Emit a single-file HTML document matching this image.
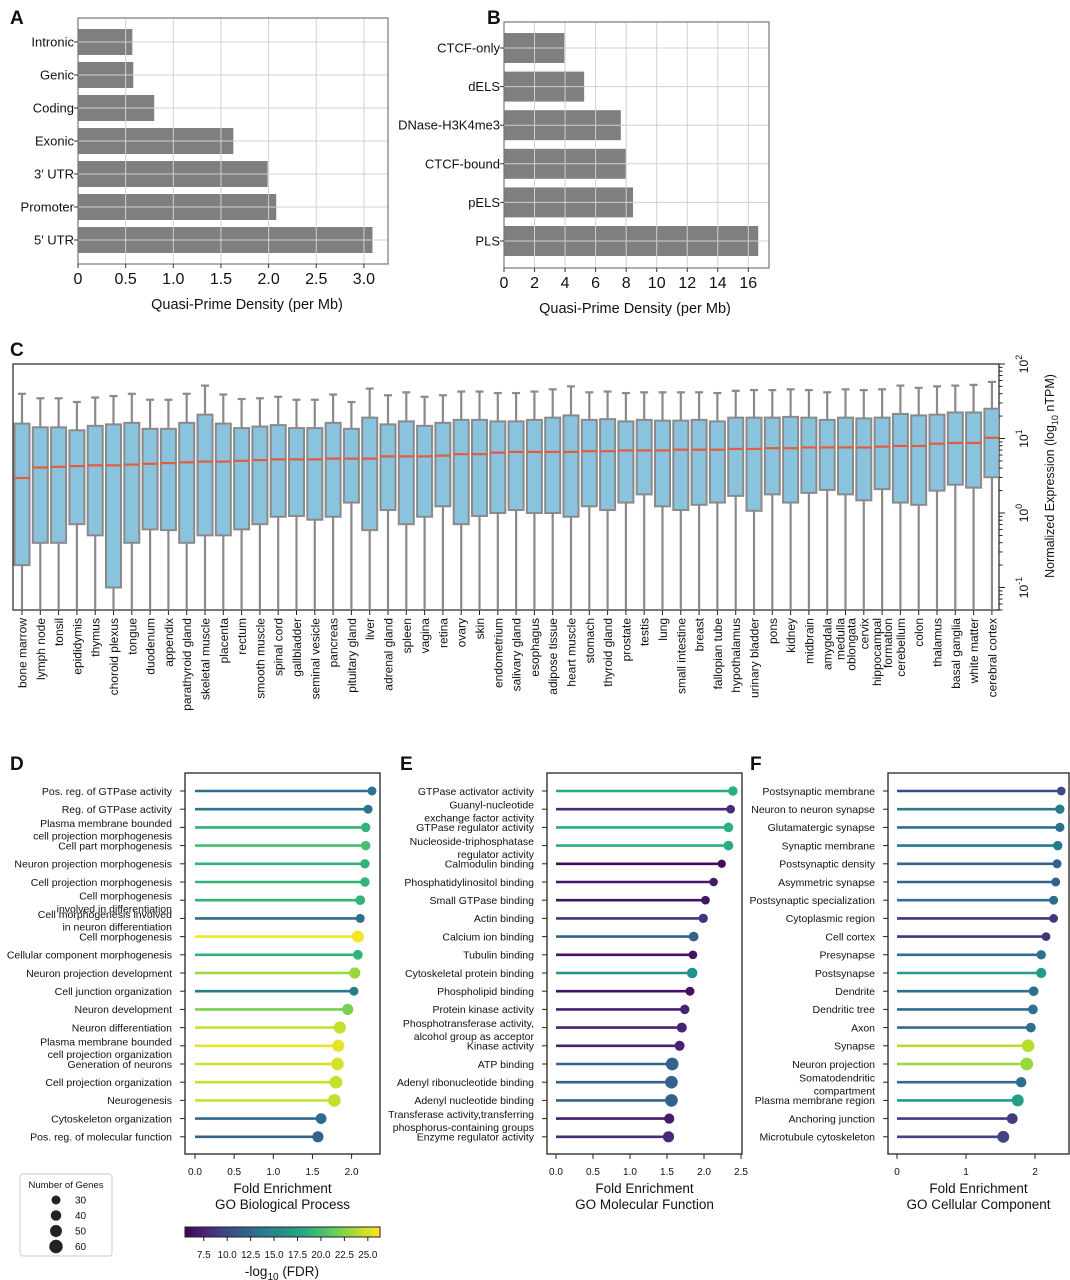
<!DOCTYPE html>
<html><head><meta charset="utf-8"><title>Quasi-prime figure</title>
<style>
html,body{margin:0;padding:0;background:#fff;}
svg{display:block;font-family:"Liberation Sans",Arial,sans-serif;}
</style></head>
<body>
<svg id="fig" width="1070" height="1280" viewBox="0 0 1070 1280" xmlns="http://www.w3.org/2000/svg">
<defs>
<linearGradient id="vir" x1="0" x2="1" y1="0" y2="0">
<stop offset="0" stop-color="#440154"/><stop offset="0.125" stop-color="#472d7b"/><stop offset="0.25" stop-color="#3b528b"/><stop offset="0.375" stop-color="#2c728e"/><stop offset="0.5" stop-color="#21918c"/><stop offset="0.625" stop-color="#28ae80"/><stop offset="0.75" stop-color="#5ec962"/><stop offset="0.875" stop-color="#addc30"/><stop offset="1" stop-color="#fde725"/>
</linearGradient>
</defs>
<g id="root"></g>
</svg>
<script>
// ---------- Panel A data ----------
const aCats = ["Intronic","Genic","Coding","Exonic","3\u2032 UTR","Promoter","5\u2032 UTR"];
const aVals = [0.57,0.58,0.80,1.63,1.99,2.08,3.09];
const aTicks = [0,0.5,1.0,1.5,2.0,2.5,3.0];
const aTickLabels = ["0","0.5","1.0","1.5","2.0","2.5","3.0"];
// ---------- Panel B data ----------
const bCats = ["CTCF-only","dELS","DNase-H3K4me3","CTCF-bound","pELS","PLS"];
const bVals = [3.95,5.25,7.65,8.0,8.45,16.65];
const bTicks = [0,2,4,6,8,10,12,14,16];
// ---------- Panel C data (log10 nTPM) ----------
const cTissues = ["bone marrow","lymph node","tonsil","epididymis","thymus","choroid plexus","tongue","duodenum","appendix","parathyroid gland","skeletal muscle","placenta","rectum","smooth muscle","spinal cord","gallbladder","seminal vesicle","pancreas","pituitary gland","liver","adrenal gland","spleen","vagina","retina","ovary","skin","endometrium","salivary gland","esophagus","adipose tissue","heart muscle","stomach","thyroid gland","prostate","testis","lung","small intestine","breast","fallopian tube","hypothalamus","urinary bladder","pons","kidney","midbrain","amygdala","medulla|oblongata","cervix","hippocampal|formation","cerebellum","colon","thalamus","basal ganglia","white matter","cerebral cortex"];
const cWhiskHi = [1.60,1.54,1.54,1.49,1.55,1.57,1.60,1.52,1.52,1.60,1.71,1.59,1.53,1.54,1.56,1.52,1.52,1.59,1.49,1.67,1.58,1.62,1.56,1.58,1.63,1.63,1.61,1.61,1.63,1.66,1.70,1.62,1.63,1.61,1.62,1.62,1.62,1.62,1.61,1.64,1.65,1.65,1.66,1.65,1.62,1.66,1.65,1.66,1.71,1.68,1.70,1.71,1.72,1.76];
const cQ3 = [1.20,1.15,1.15,1.11,1.17,1.19,1.21,1.13,1.13,1.21,1.32,1.20,1.14,1.16,1.18,1.14,1.14,1.21,1.13,1.28,1.19,1.23,1.17,1.21,1.25,1.25,1.23,1.23,1.25,1.28,1.31,1.25,1.26,1.23,1.25,1.24,1.24,1.25,1.23,1.28,1.28,1.28,1.29,1.28,1.25,1.28,1.27,1.28,1.33,1.31,1.32,1.35,1.35,1.40];
const cMed = [0.47,0.61,0.62,0.63,0.64,0.64,0.65,0.66,0.67,0.68,0.69,0.69,0.70,0.71,0.72,0.72,0.72,0.73,0.73,0.73,0.76,0.76,0.76,0.77,0.79,0.79,0.81,0.82,0.82,0.82,0.82,0.83,0.83,0.84,0.84,0.84,0.85,0.85,0.85,0.86,0.86,0.87,0.87,0.88,0.88,0.88,0.88,0.89,0.90,0.90,0.93,0.94,0.94,1.01];
const cQ1 = [-0.70,-0.40,-0.40,-0.15,-0.30,-1.00,-0.40,-0.22,-0.23,-0.40,-0.30,-0.30,-0.22,-0.15,-0.05,-0.04,-0.09,-0.05,0.14,-0.23,0.04,-0.15,-0.05,0.09,-0.15,-0.04,0.00,0.04,0.00,0.00,-0.05,0.09,0.04,0.14,0.25,0.09,0.04,0.11,0.14,0.23,0.03,0.25,0.14,0.27,0.31,0.25,0.17,0.32,0.14,0.11,0.30,0.38,0.34,0.48];
const cWhiskLo = [-1.6,-1.6,-1.6,-1.6,-1.6,-1.6,-1.6,-1.6,-1.6,-1.6,-1.6,-1.6,-1.6,-1.6,-1.6,-1.6,-1.6,-1.6,-1.6,-1.6,-1.6,-1.6,-1.6,-1.6,-1.6,-1.6,-1.6,-1.6,-1.6,-1.6,-1.6,-1.6,-1.6,-1.6,-1.6,-1.6,-1.6,-1.6,-1.6,-1.6,-1.6,-1.6,-1.6,-1.6,-1.6,-1.6,-1.6,-1.6,-1.6,-1.6,-1.6,-1.6,-1.6,-1.6];
const cDecades = [-1,0,1,2];
// ---------- Panel D data ----------
const dTerms = ["Pos. reg. of GTPase activity","Reg. of GTPase activity","Plasma membrane bounded|cell projection morphogenesis","Cell part morphogenesis","Neuron projection morphogenesis","Cell projection morphogenesis","Cell morphogenesis|involved in differentiation","Cell morphogenesis involved|in neuron differentiation","Cell morphogenesis","Cellular component morphogenesis","Neuron projection development","Cell junction organization","Neuron development","Neuron differentiation","Plasma membrane bounded|cell projection organization","Generation of neurons","Cell projection organization","Neurogenesis","Cytoskeleton organization","Pos. reg. of molecular function"];
const dFold = [2.26,2.21,2.18,2.18,2.17,2.17,2.11,2.11,2.08,2.08,2.04,2.03,1.95,1.85,1.83,1.82,1.80,1.78,1.61,1.57];
const dFdr = [13,13.5,19,20,19,19,19,13,26,19,23,14,22,24.5,25.5,25,24.5,24.5,12.5,12];
const dGenes = [30,30,33,33,33,33,35,30,50,35,45,30,45,52,52,55,55,55,42,45];
// ---------- Panel E data ----------
const eTerms = ["GTPase activator activity","Guanyl-nucleotide|exchange factor activity","GTPase regulator activity","Nucleoside-triphosphatase|regulator activity","Calmodulin binding","Phosphatidylinositol binding","Small GTPase binding","Actin binding","Calcium ion binding","Tubulin binding","Cytoskeletal protein binding","Phospholipid binding","Protein kinase activity","Phosphotransferase activity,|alcohol group as acceptor","Kinase activity","ATP binding","Adenyl ribonucleotide binding","Adenyl nucleotide binding","Transferase activity,transferring|phosphorus-containing groups","Enzyme regulator activity"];
const eFold = [2.39,2.36,2.33,2.33,2.24,2.13,2.02,1.99,1.86,1.85,1.84,1.81,1.74,1.70,1.67,1.57,1.56,1.56,1.53,1.52];
const eFdr = [18.5,8,18.5,18.5,6,7,6.5,8.5,12,6.5,16,6.5,7.5,7.5,7.5,12,12,12,7,8];
const eGenes = [33,28,35,35,25,27,28,32,35,28,40,30,33,37,37,55,55,55,38,45];
// ---------- Panel F data ----------
const fTerms = ["Postsynaptic membrane","Neuron to neuron synapse","Glutamatergic synapse","Synaptic membrane","Postsynaptic density","Asymmetric synapse","Postsynaptic specialization","Cytoplasmic region","Cell cortex","Presynapse","Postsynapse","Dendrite","Dendritic tree","Axon","Synapse","Neuron projection","Somatodendritic|compartment","Plasma membrane region","Anchoring junction","Microtubule cytoskeleton"];
const fFold = [2.38,2.36,2.36,2.33,2.32,2.30,2.27,2.27,2.16,2.09,2.09,1.98,1.97,1.94,1.90,1.88,1.80,1.75,1.67,1.54];
const fFdr = [10,14,13,14,12,12,13,8.5,8.5,13,17,13,13,13,24,23,13,17,9,9.5];
const fGenes = [28,32,32,33,30,30,30,28,28,33,38,35,35,35,55,55,40,50,42,50];
// ---------- legends ----------
const legendGenes = [30,40,50,60];
const cbarTicks = [7.5,10.0,12.5,15.0,17.5,20.0,22.5,25.0];

const NS="http://www.w3.org/2000/svg";
const root=document.getElementById('root');
function el(tag,attrs,parent,text){const e=document.createElementNS(NS,tag);for(const k in attrs)e.setAttribute(k,attrs[k]);if(text!==undefined)e.textContent=text;(parent||root).appendChild(e);return e;}
function grp(name){const g=el('g',{});return g;}

const VIR=[[68,1,84],[71,45,123],[59,82,139],[44,114,142],[33,145,140],[40,174,128],[94,201,98],[173,220,48],[253,231,37]];
function viridis(t){t=Math.max(0,Math.min(1,t));const p=t*8,i=Math.min(7,Math.floor(p)),f=p-i;const a=VIR[i],b=VIR[i+1];return `rgb(${Math.round(a[0]+(b[0]-a[0])*f)},${Math.round(a[1]+(b[1]-a[1])*f)},${Math.round(a[2]+(b[2]-a[2])*f)})`;}
const FDR_MIN=5.5,FDR_MAX=26.3;

[["A",10,24],["B",487,24],["C",10,356],["D",10,770],["E",400,770],["F",750,770]].forEach(([t,x,y])=>{
  const e=el('text',{x:x,y:y,'font-size':19,'font-weight':'bold',fill:'#111'},root,t);
  
  
});

function barPanel(opts){
  const g=grp(opts.name);
  const sx=v=>opts.x0+v*opts.ppu;
  const sy=i=>opts.yc0+i*opts.step;
  opts.vals.forEach((v,i)=>{
    const r=el('rect',{x:sx(0),y:sy(i)-opts.bh/2,width:sx(v)-sx(0),height:opts.bh,fill:'#7f7f7f'},g);
    
    
  });
  opts.ticks.forEach(t=>{el('line',{x1:sx(t),x2:sx(t),y1:opts.top,y2:opts.bot,stroke:'#d0d0d0','stroke-width':1},g);});
  opts.cats.forEach((c,i)=>{el('line',{x1:opts.left,x2:opts.right,y1:sy(i),y2:sy(i),stroke:'#d0d0d0','stroke-width':1},g);});
  el('rect',{x:opts.left,y:opts.top,width:opts.right-opts.left,height:opts.bot-opts.top,fill:'none',stroke:'#777','stroke-width':1.2},g);
  opts.cats.forEach((c,i)=>{
    el('line',{x1:opts.left-4,x2:opts.left,y1:sy(i),y2:sy(i),stroke:'#333'},g);
    const t=el('text',{x:opts.left-4,y:sy(i)+4.5,'text-anchor':'end','font-size':opts.catFs,fill:'#111'},g,c);
    
    
  });
  opts.ticks.forEach((t,i)=>{
    el('line',{x1:sx(t),x2:sx(t),y1:opts.bot,y2:opts.bot+4,stroke:'#333'},g);
    const tl=el('text',{x:sx(t),y:opts.bot+20,'text-anchor':'middle','font-size':16,fill:'#111'},g,opts.tickLabels?opts.tickLabels[i]:String(t));
    
    
  });
  const tt=el('text',{x:opts.titleX,y:opts.bot+45,'text-anchor':'middle','font-size':14.5,fill:'#111'},g,'Quasi-Prime Density (per Mb)');
  
  
}
barPanel({name:'panel-a-genomic-density',cats:aCats,vals:aVals,ticks:aTicks,tickLabels:aTickLabels,x0:78,ppu:95.3,yc0:42,step:33,bh:26,left:78,right:388,top:18,bot:264,catFs:13,titleX:247});
barPanel({name:'panel-b-ccre-density',cats:bCats,vals:bVals,ticks:bTicks,x0:504,ppu:15.27,yc0:48,step:38.6,bh:30,left:504,right:769,top:22,bot:268,catFs:13,titleX:635});

(function(){
  const g=grp('panel-c-tissue-expression');
  const L=13,R=999,T=364,B=610;
  const sy=v=>513-v*74.5;
  const sx=i=>22+i*18.3;
  el('rect',{x:L,y:T,width:R-L,height:B-T,fill:'none',stroke:'#222','stroke-width':1.2},g);
  const clip=el('clipPath',{id:'cclip'},g);el('rect',{x:L,y:T,width:R-L,height:B-T},clip);
  const gb=el('g',{'clip-path':'url(#cclip)'},g);
  cTissues.forEach((name,i)=>{
    const x=sx(i),w=15;
    const bx=el('g',{},gb);
    
    
    el('line',{x1:x,x2:x,y1:sy(cWhiskHi[i]),y2:sy(cQ3[i]),stroke:'#8a8a8a','stroke-width':2.2},bx);
    el('line',{x1:x-4,x2:x+4,y1:sy(cWhiskHi[i]),y2:sy(cWhiskHi[i]),stroke:'#8a8a8a','stroke-width':2.2},bx);
    el('line',{x1:x,x2:x,y1:sy(cQ1[i]),y2:sy(cWhiskLo[i]),stroke:'#8a8a8a','stroke-width':2.2},bx);
    el('rect',{x:x-w/2,y:sy(cQ3[i]),width:w,height:sy(cQ1[i])-sy(cQ3[i]),fill:'#8ac3de',stroke:'#8a8a8a','stroke-width':2},bx);
    el('line',{x1:x-w/2,x2:x+w/2,y1:sy(cMed[i]),y2:sy(cMed[i]),stroke:'#e45c3a','stroke-width':2.2},bx);
  });
  cTissues.forEach((name,i)=>{
    const x=sx(i);
    el('line',{x1:x,x2:x,y1:B,y2:B+5,stroke:'#222'},g);
    const parts=name.split('|');
    parts.forEach((p,k)=>{
      const tx=x+4.5+(k-(parts.length-1)/2)*11;
      const t=el('text',{x:tx,y:B+8,'text-anchor':'end','font-size':12,fill:'#111',transform:`rotate(-90 ${tx} ${B+8})`},g,p);
      
      
    });
  });
  cDecades.forEach(d=>{
    const y=sy(d);
    el('line',{x1:R,x2:R+6,y1:y,y2:y,stroke:'#222'},g);
    for(let m=2;m<=9;m++){const ym=sy(d+Math.log10(m));if(ym>=T&&ym<=B)el('line',{x1:R,x2:R+3.5,y1:ym,y2:ym,stroke:'#222'},g);}
    if(d-1<-1){for(let m=5;m<=9;m++){const ym=sy(d-1+Math.log10(m));if(ym<=B)el('line',{x1:R,x2:R+3.5,y1:ym,y2:ym,stroke:'#222'},g);}}
    const t=el('text',{x:1028,y:y,'text-anchor':'middle','font-size':12,fill:'#111',transform:`rotate(-90 1028 ${y})`},g);
    
    
    el('tspan',{},t,'10');el('tspan',{dy:-6,'font-size':9},t,String(d));
  });
  const yt=el('text',{x:1054,y:476,'text-anchor':'middle','font-size':12.5,fill:'#111',transform:'rotate(-90 1054 476)'},g);
  
  
  el('tspan',{},yt,'Normalized Expression (log');el('tspan',{dy:4,'font-size':9},yt,'10');el('tspan',{dy:-4},yt,' nTPM)');
})();

function lollipop(opts){
  const g=grp(opts.name);
  const sx=v=>opts.x0+v*opts.ppu;
  const sy=i=>791+i*18.2;
  el('rect',{x:opts.left,y:773,width:opts.right-opts.left,height:1154-773,fill:'none',stroke:'#222','stroke-width':1.3},g);
  opts.terms.forEach((term,i)=>{
    const y=sy(i),c=viridis((opts.fdr[i]-FDR_MIN)/(FDR_MAX-FDR_MIN));
    const r=4.5+(opts.genes[i]-30)*2.2/30;
    const lp=el('g',{},g);
    
    
    el('line',{x1:sx(0),x2:sx(opts.fold[i]),y1:y,y2:y,stroke:c,'stroke-width':2.6},lp);
    el('circle',{cx:sx(opts.fold[i]),cy:y,r:r,fill:c},lp);
    el('line',{x1:opts.left-5,x2:opts.left,y1:y,y2:y,stroke:'#222'},g);
    const parts=term.split('|');
    const lx=opts.left-13;
    if(parts.length===1){
      const t=el('text',{x:lx,y:y+3.8,'text-anchor':'end','font-size':10.5,fill:'#111'},g,term);
      
    } else {
      [y-0.5,y+12.2].forEach((yy,k)=>{
        const t=el('text',{x:lx,y:yy,'text-anchor':'end','font-size':10.5,fill:'#111'},g,parts[k]);
        
      });
    }
  });
  opts.ticks.forEach((t,i)=>{
    el('line',{x1:sx(t),x2:sx(t),y1:1154,y2:1159,stroke:'#222'},g);
    const tl=el('text',{x:sx(t),y:1175,'text-anchor':'middle','font-size':10,fill:'#111'},g,opts.tickLabels[i]);
    
  });
  const cx=(opts.left+opts.right)/2;
  const t1=el('text',{x:cx,y:1193,'text-anchor':'middle','font-size':13.5,fill:'#111'},g,'Fold Enrichment');
  
  const t2=el('text',{x:cx,y:1209,'text-anchor':'middle','font-size':13.5,fill:'#111'},g,opts.title);
  
}
lollipop({name:'panel-d-go-biological-process',terms:dTerms,fold:dFold,fdr:dFdr,genes:dGenes,x0:195,ppu:78.3,left:185,right:380,ticks:[0,0.5,1,1.5,2],tickLabels:["0.0","0.5","1.0","1.5","2.0"],title:'GO Biological Process'});
lollipop({name:'panel-e-go-molecular-function',terms:eTerms,fold:eFold,fdr:eFdr,genes:eGenes,x0:556,ppu:74,left:547,right:742,ticks:[0,0.5,1,1.5,2,2.5],tickLabels:["0.0","0.5","1.0","1.5","2.0","2.5"],title:'GO Molecular Function'});
lollipop({name:'panel-f-go-cellular-component',terms:fTerms,fold:fFold,fdr:fFdr,genes:fGenes,x0:897,ppu:69,left:888,right:1069,ticks:[0,1,2],tickLabels:["0","1","2"],title:'GO Cellular Component'});

(function(){
  const g=grp('size-legend');
  el('rect',{x:20,y:1174,width:92,height:82,rx:3,fill:'#fff',stroke:'#d4d4d4','stroke-width':1.2},g);
  const t=el('text',{x:66,y:1188,'text-anchor':'middle','font-size':9.5,fill:'#111'},g,'Number of Genes');
  
  legendGenes.forEach((n,i)=>{
    const y=1200+i*15.5;
    const c=el('circle',{cx:56,cy:y,r:4.5+(n-30)*2.2/30,fill:'#222'},g);
    
    el('text',{x:75,y:y+3.5,'font-size':10,fill:'#111'},g,String(n));
  });
})();

(function(){
  const g=grp('fdr-colorbar');
  const cx=v=>185+(v-FDR_MIN)/(FDR_MAX-FDR_MIN)*195;
  el('rect',{x:185,y:1227,width:195,height:10,fill:'url(#vir)',stroke:'#222','stroke-width':1},g);
  cbarTicks.forEach(v=>{
    el('line',{x1:cx(v),x2:cx(v),y1:1237,y2:1241,stroke:'#222'},g);
    const t=el('text',{x:cx(v),y:1258,'text-anchor':'middle','font-size':9.8,fill:'#111'},g,v.toFixed(1));
    
  });
  const tt=el('text',{x:282,y:1276,'text-anchor':'middle','font-size':13.5,fill:'#111'},g);
  
  el('tspan',{},tt,'-log');el('tspan',{dy:4,'font-size':10},tt,'10');el('tspan',{dy:-4},tt,' (FDR)');
})();
</script>
</body></html>
